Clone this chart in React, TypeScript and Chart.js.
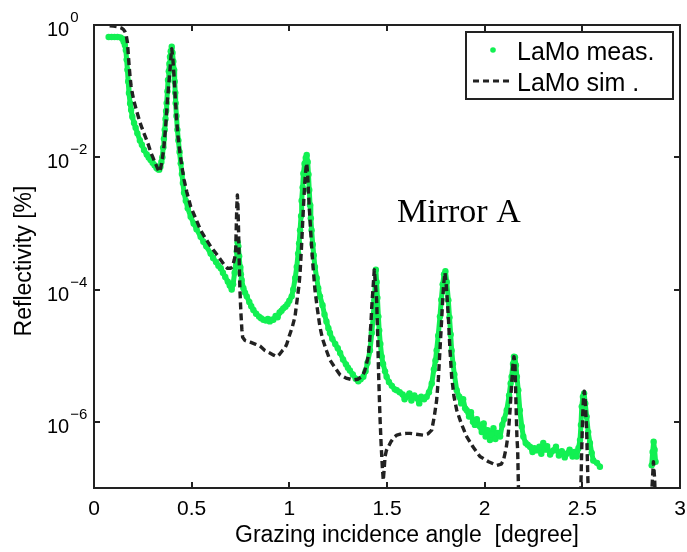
import { useEffect, useRef } from 'react';
import { Chart, registerables } from 'chart.js';
Chart.register(...registerables);

const measAngle = [
  0.075, 0.09, 0.105, 0.12, 0.135, 0.145, 0.152, 0.158, 0.163, 0.167, 0.171, 0.175, 0.179, 0.185, 0.19, 0.196, 0.205, 0.213, 0.222, 0.235,
  0.245, 0.256, 0.27, 0.28, 0.29, 0.3, 0.31, 0.32, 0.328, 0.334, 0.34, 0.345, 0.35, 0.354, 0.358, 0.362, 0.366, 0.369, 0.372, 0.376,
  0.379, 0.383, 0.386, 0.389, 0.393, 0.398, 0.402, 0.406, 0.41, 0.413, 0.416, 0.418, 0.422, 0.427, 0.432, 0.438, 0.444, 0.45, 0.455, 0.461,
  0.47, 0.48, 0.495, 0.51, 0.525, 0.546, 0.56, 0.575, 0.597, 0.61, 0.625, 0.637, 0.649, 0.66, 0.672, 0.685, 0.695, 0.705, 0.712, 0.72,
  0.727, 0.731, 0.735, 0.739, 0.743, 0.748, 0.752, 0.756, 0.765, 0.773, 0.782, 0.795, 0.805, 0.816, 0.83, 0.845, 0.855, 0.867, 0.88, 0.89,
  0.9, 0.91, 0.918, 0.93, 0.94, 0.95, 0.96, 0.969, 0.98, 0.99, 1.0, 1.012, 1.02, 1.03, 1.038, 1.045, 1.05, 1.055, 1.06, 1.063,
  1.068, 1.072, 1.078, 1.084, 1.089, 1.094, 1.098, 1.102, 1.106, 1.11, 1.114, 1.12, 1.125, 1.131, 1.14, 1.148, 1.157, 1.17, 1.18, 1.19,
  1.2, 1.208, 1.22, 1.235, 1.248, 1.26, 1.275, 1.29, 1.3, 1.31, 1.325, 1.34, 1.353, 1.365, 1.379, 1.39, 1.4, 1.413, 1.422, 1.43,
  1.435, 1.44, 1.443, 1.447, 1.451, 1.456, 1.46, 1.466, 1.473, 1.48, 1.49, 1.498, 1.51, 1.525, 1.54, 1.55, 1.565, 1.58, 1.59, 1.6,
  1.615, 1.625, 1.64, 1.652, 1.665, 1.675, 1.69, 1.703, 1.715, 1.729, 1.74, 1.748, 1.754, 1.762, 1.771, 1.778, 1.785, 1.792, 1.799, 1.806,
  1.814, 1.82, 1.826, 1.831, 1.838, 1.845, 1.857, 1.87, 1.88, 1.89, 1.9, 1.908, 1.92, 1.93, 1.94, 1.95, 1.96, 1.976, 1.985, 1.995,
  2.005, 2.015, 2.027, 2.035, 2.045, 2.055, 2.065, 2.079, 2.09, 2.1, 2.113, 2.125, 2.133, 2.138, 2.145, 2.15, 2.155, 2.16, 2.165, 2.172,
  2.18, 2.19, 2.198, 2.21, 2.22, 2.232, 2.245, 2.255, 2.266, 2.28, 2.29, 2.3, 2.31, 2.32, 2.335, 2.352, 2.365, 2.38, 2.395, 2.41,
  2.42, 2.435, 2.45, 2.46, 2.471, 2.48, 2.488, 2.493, 2.497, 2.503, 2.509, 2.515, 2.522, 2.53, 2.539, 2.548, 2.556, 2.575, 2.59, 2.7,
  2.855, 2.86, 2.865, 2.87, 2.875,
];
const measRefl = [
  0.66, 0.66, 0.66, 0.66, 0.65, 0.62, 0.56, 0.5, 0.42, 0.3, 0.21, 0.14, 0.094, 0.065, 0.052, 0.041, 0.033, 0.028, 0.023, 0.018,
  0.0155, 0.0129, 0.011, 0.0099, 0.0091, 0.0083, 0.0076, 0.0069, 0.0066, 0.0065, 0.0072, 0.0085, 0.01, 0.014, 0.019, 0.026, 0.038, 0.05, 0.066, 0.1,
  0.148, 0.2, 0.26, 0.33, 0.4, 0.47, 0.38, 0.28, 0.21, 0.14, 0.095, 0.066, 0.042, 0.026, 0.018, 0.012, 0.0081, 0.0056, 0.0041, 0.0029,
  0.0022, 0.0017, 0.00126, 0.001, 0.00082, 0.00063, 0.00053, 0.00045, 0.00035, 0.0003, 0.00026, 0.00023, 0.00021, 0.00018, 0.000155, 0.000132, 0.000115, 0.0001, 0.00012, 0.00018,
  0.00027, 0.00038, 0.00052, 0.00045, 0.00032, 0.00022, 0.00017, 0.00014, 0.000105, 0.00009, 0.000079, 0.000065, 0.000056, 0.000049, 0.000043, 0.000039, 0.000037, 0.000035, 0.000034, 0.000036,
  0.000033, 0.000035, 0.000035, 0.00004, 0.000038, 0.000045, 0.000048, 0.000052, 0.000055, 0.00006, 0.000068, 0.000079, 0.0001, 0.00015, 0.00022, 0.00035, 0.0005, 0.00079, 0.0013, 0.0022,
  0.0035, 0.0057, 0.008, 0.0098, 0.0108, 0.0085, 0.0055, 0.0032, 0.0019, 0.0012, 0.00079, 0.00048, 0.00033, 0.00022, 0.00015, 0.000105, 0.000079, 0.000058, 0.000042, 0.000033,
  0.000026, 0.000022, 0.000018, 0.000015, 0.000013, 0.000011, 0.0000088, 0.0000074, 0.0000066, 0.000006, 0.0000052, 0.0000045, 0.0000041, 0.0000044, 0.0000048, 0.0000058, 0.0000078, 0.000012, 0.000022, 0.00004,
  0.000069, 0.00012, 0.0002, 0.00013, 0.000075, 0.000039, 0.000024, 0.000015, 0.0000097, 0.0000075, 0.0000058, 0.0000048, 0.000004, 0.0000035, 0.0000031, 0.000003, 0.0000028, 0.0000026, 0.0000022, 0.0000024,
  0.0000027, 0.0000021, 0.0000025, 0.0000023, 0.0000019, 0.0000024, 0.0000022, 0.0000024, 0.0000028, 0.0000038, 0.0000062, 0.0000085, 0.000012, 0.00002, 0.000039, 0.00007, 0.00012, 0.00017, 0.00019, 0.00013,
  0.000069, 0.000038, 0.000021, 0.000012, 0.0000075, 0.0000052, 0.000003, 0.0000024, 0.0000019, 0.0000022, 0.0000016, 0.0000015, 0.0000012, 0.0000014, 0.000001, 0.0000009, 0.0000011, 0.00000085, 0.0000007, 0.00000095,
  0.0000006, 0.00000075, 0.00000053, 0.00000065, 0.0000008, 0.00000055, 0.00000068, 0.0000006, 0.0000009, 0.0000011, 0.0000015, 0.0000025, 0.0000038, 0.0000048, 0.0000075, 0.0000097, 0.0000095, 0.0000072, 0.0000048, 0.000003,
  0.0000015, 0.00000085, 0.0000006, 0.00000048, 0.00000045, 0.00000042, 0.00000035, 0.0000004, 0.00000037, 0.00000042, 0.00000033, 0.00000048, 0.00000038, 0.00000043, 0.00000032, 0.00000037, 0.00000042, 0.00000031, 0.00000036, 0.00000029,
  0.00000033, 0.00000038, 0.0000003, 0.00000035, 0.0000003, 0.0000004, 0.00000053, 0.0000009, 0.0000017, 0.0000024, 0.0000027, 0.0000019, 0.0000012, 0.0000007, 0.00000048, 0.00000034, 0.00000026, 0.00000024, 0.00000021, null,
  0.00000022, 0.00000035, 0.0000005, 0.00000038, 0.00000025,
];

const simAngle = [
  0.08, 0.1, 0.12, 0.14, 0.15, 0.158, 0.165, 0.171, 0.175, 0.179, 0.185, 0.19, 0.196, 0.205, 0.213, 0.222, 0.235, 0.245, 0.256, 0.27,
  0.28, 0.29, 0.3, 0.31, 0.32, 0.328, 0.333, 0.34, 0.345, 0.35, 0.358, 0.365, 0.37, 0.375, 0.382, 0.389, 0.394, 0.398, 0.403, 0.41,
  0.416, 0.423, 0.43, 0.44, 0.45, 0.461, 0.475, 0.495, 0.52, 0.546, 0.57, 0.597, 0.625, 0.649, 0.665, 0.683, 0.7, 0.708, 0.718, 0.725,
  0.728, 0.731, 0.734, 0.737, 0.74, 0.743, 0.747, 0.752, 0.757, 0.761, 0.773, 0.8, 0.825, 0.85, 0.875, 0.9, 0.92, 0.935, 0.95, 0.965,
  0.977, 0.987, 1.0, 1.015, 1.029, 1.04, 1.05, 1.055, 1.062, 1.068, 1.075, 1.08, 1.085, 1.089, 1.094, 1.098, 1.102, 1.108, 1.114, 1.12,
  1.131, 1.143, 1.157, 1.17, 1.19, 1.208, 1.235, 1.26, 1.29, 1.327, 1.35, 1.37, 1.385, 1.395, 1.404, 1.412, 1.418, 1.422, 1.428, 1.435,
  1.441, 1.447, 1.452, 1.456, 1.46, 1.464, 1.47, 1.476, 1.481, 1.486, 1.49, 1.497, 1.507, 1.52, 1.535, 1.55, 1.575, 1.6, 1.618, 1.65,
  1.686, 1.71, 1.729, 1.742, 1.754, 1.763, 1.771, 1.778, 1.785, 1.79, 1.797, 1.803, 1.808, 1.814, 1.822, 1.831, 1.843, 1.857, 1.88, 1.908,
  1.94, 1.976, 2.02, 2.062, 2.085, 2.096, 2.11, 2.121, 2.13, 2.138, 2.145, 2.15, 2.155, 2.16, 2.165, 2.169, 2.175, 2.49, 2.497, 2.502,
  2.506, 2.51, 2.515, 2.522, 2.528, 2.535, 2.845, 2.858, 2.864, 2.87, 2.878,
];
const simRefl = [
  0.97, 0.96, 0.94, 0.9, 0.86, 0.8, 0.7, 0.55, 0.38, 0.26, 0.16, 0.12, 0.093, 0.07, 0.057, 0.046, 0.034, 0.028, 0.023, 0.018,
  0.015, 0.012, 0.0102, 0.0087, 0.0074, 0.0065, 0.006, 0.0066, 0.0078, 0.0095, 0.0145, 0.025, 0.04, 0.066, 0.12, 0.21, 0.33, 0.44, 0.33, 0.166,
  0.08, 0.037, 0.021, 0.0115, 0.0072, 0.0046, 0.003, 0.0018, 0.0012, 0.00079, 0.0006, 0.00045, 0.00035, 0.00028, 0.00024, 0.00021, 0.00021, 0.00022, 0.00028, 0.00035,
  0.0008, 0.0018, 0.0027, 0.0018, 0.0008, 0.0003, 0.0001, 0.000045, 0.000025, 0.000019, 0.000017, 0.000016, 0.000015, 0.000014, 0.000012, 0.000011, 0.0000102, 0.0000097, 0.0000105, 0.000012,
  0.000013, 0.000015, 0.00002, 0.000027, 0.000039, 0.00007, 0.00012, 0.00018, 0.00042, 0.001, 0.0025, 0.0045, 0.0068, 0.0081, 0.0055, 0.003, 0.0018, 0.0009, 0.00045, 0.00025,
  0.0001, 0.000052, 0.000027, 0.000018, 0.000012, 0.0000086, 0.0000065, 0.0000051, 0.0000046, 0.0000043, 0.0000044, 0.0000048, 0.0000058, 0.0000075, 0.0000097, 0.000018, 0.000032, 0.000055, 0.0001, 0.0002,
  0.00012, 0.000069, 0.000022, 0.0000068, 0.0000028, 0.0000012, 0.00000045, 0.00000021, 0.00000013, 0.0000002, 0.0000003, 0.00000037, 0.00000042, 0.0000005, 0.00000058, 0.00000063, 0.00000066, 0.00000067, 0.00000067, 0.00000065,
  0.00000063, 0.00000066, 0.00000075, 0.0000012, 0.0000021, 0.0000045, 0.000012, 0.000028, 0.000069, 0.00012, 0.00018, 0.00012, 0.000075, 0.000039, 0.000013, 0.0000048, 0.0000024, 0.0000015, 0.00000095, 0.0000006,
  0.00000042, 0.0000003, 0.00000025, 0.00000022, 0.00000023, 0.00000026, 0.0000004, 0.00000067, 0.0000015, 0.0000038, 0.0000075, 0.0000097, 0.0000075, 0.0000021, 0.0000006, 0.00000037, 0.00000005, 0.00000005, 0.0000004, 0.0000013,
  0.0000024, 0.0000029, 0.0000021, 0.00000075, 0.00000015, 0.00000003, 0.00000003, 0.00000012, 0.00000025, 0.00000014, 0.00000003,
];

const xTickValues = [0, 0.5, 1, 1.5, 2, 2.5, 3];
const xTickLabels = ['0', '0.5', '1', '1.5', '2', '2.5', '3'];
const yTickValues = [1, 1e-2, 1e-4, 1e-6];
const yTickExponents = ['0', '\u22122', '\u22124', '\u22126'];
const legendLabels = ['LaMo meas.', 'LaMo sim .'];
const annotationText = 'Mirror A';
const xTitle = 'Grazing incidence angle  [degree]';
const yTitle = 'Reflectivity [%]';

const GREEN = 'rgb(18,240,82)';
const DARK = '#222222';
const SANS = '"Liberation Sans", Arial, sans-serif';
const SERIF = '"Liberation Serif", "Times New Roman", serif';

const decorPlugin = {
  id: 'decor',
  afterDraw(chart: any) {
    const { ctx, chartArea, scales } = chart;
    const { left, right, top, bottom } = chartArea;
    const xs = scales.x;
    const ys = scales.y;
    ctx.save();
    ctx.strokeStyle = DARK;
    ctx.fillStyle = '#000';
    ctx.lineWidth = 2;
    ctx.strokeRect(left, top, right - left, bottom - top);
    const tl = 6;
    ctx.beginPath();
    xTickValues.forEach((v) => {
      const px = Math.round(xs.getPixelForValue(v));
      ctx.moveTo(px, bottom);
      ctx.lineTo(px, bottom - tl);
      ctx.moveTo(px, top);
      ctx.lineTo(px, top + tl);
    });
    yTickValues.forEach((v) => {
      const py = Math.round(ys.getPixelForValue(v));
      ctx.moveTo(left, py);
      ctx.lineTo(left + tl, py);
      ctx.moveTo(right, py);
      ctx.lineTo(right - tl, py);
    });
    ctx.stroke();

    ctx.font = `21px ${SANS}`;
    ctx.textAlign = 'center';
    ctx.textBaseline = 'alphabetic';
    xTickValues.forEach((v, i) => {
      const px = xs.getPixelForValue(v);
      ctx.fillText(xTickLabels[i], px, bottom + 27);
    });

    yTickValues.forEach((v, i) => {
      const py = ys.getPixelForValue(v);
      ctx.textAlign = 'left';
      ctx.font = `20px ${SANS}`;
      ctx.fillText('10', 47, py + 11);
      const w = ctx.measureText('10').width;
      ctx.font = `15px ${SANS}`;
      ctx.fillText(yTickExponents[i], 47 + w + 1, py - 3);
    });

    ctx.font = `23px ${SANS}`;
    ctx.textAlign = 'left';
    ctx.fillText(xTitle, 235, 542);
    ctx.save();
    ctx.translate(31, 261);
    ctx.rotate(-Math.PI / 2);
    ctx.textAlign = 'center';
    ctx.fillText(yTitle, 0, 0);
    ctx.restore();

    ctx.font = `34px ${SERIF}`;
    ctx.textAlign = 'left';
    ctx.fillText(annotationText, 397, 222);

    ctx.fillStyle = '#ffffff';
    ctx.fillRect(466, 32, 207, 67);
    ctx.strokeStyle = DARK;
    ctx.lineWidth = 2;
    ctx.strokeRect(466, 32, 207, 67);
    ctx.fillStyle = GREEN;
    ctx.beginPath();
    ctx.arc(493, 50, 2.8, 0, Math.PI * 2);
    ctx.fill();
    ctx.strokeStyle = DARK;
    ctx.lineWidth = 3;
    ctx.setLineDash([6, 4]);
    ctx.beginPath();
    ctx.moveTo(473, 81);
    ctx.lineTo(513, 81);
    ctx.stroke();
    ctx.setLineDash([]);
    ctx.fillStyle = '#000';
    ctx.font = `25px ${SANS}`;
    ctx.fillText(legendLabels[0], 517, 60);
    ctx.fillText(legendLabels[1], 517, 91);
    ctx.restore();
  },
};

export default function App() {
  const ref = useRef<HTMLCanvasElement | null>(null);
  useEffect(() => {
    if (!ref.current) return;
    const meas = measAngle.map((x, i) => ({ x, y: measRefl[i] }));
    const sim = simAngle.map((x, i) => ({ x, y: simRefl[i] }));
    const chart = new Chart(ref.current, {
      type: 'scatter',
      data: {
        datasets: [
          {
            label: legendLabels[1],
            data: sim,
            showLine: true,
            borderColor: DARK,
            borderWidth: 3.4,
            borderDash: [7, 4],
            borderJoinStyle: 'round',
            pointRadius: 0,
            tension: 0,
            order: 0,
            clip: 1,
          } as any,
          {
            label: legendLabels[0],
            data: meas,
            showLine: true,
            spanGaps: false,
            borderColor: GREEN,
            borderWidth: 5,
            borderJoinStyle: 'round',
            borderCapStyle: 'round',
            backgroundColor: GREEN,
            pointBackgroundColor: GREEN,
            pointBorderWidth: 0,
            pointRadius: 3.2,
            tension: 0,
            order: 1,
            clip: 2,
          } as any,
        ],
      },
      options: {
        responsive: false,
        animation: false,
        layout: { padding: { left: 94, right: 7, top: 25, bottom: 64 } },
        plugins: { legend: { display: false }, tooltip: { enabled: false } },
        events: [],
        scales: {
          x: { type: 'linear', min: 0, max: 3, display: false },
          y: { type: 'logarithmic', min: 1e-7, max: 1, display: false },
        },
      },
      plugins: [decorPlugin],
    });
    return () => chart.destroy();
  }, []);
  return (
    <div style={{ position: 'fixed', left: 0, top: 0, width: 687, height: 552, background: '#fff' }}>
      <canvas ref={ref} width={687} height={552} />
    </div>
  );
}
